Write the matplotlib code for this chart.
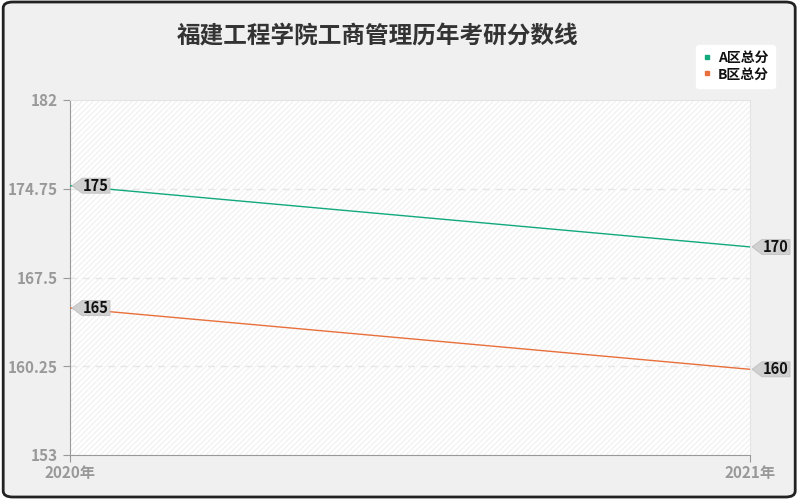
import matplotlib.pyplot as plt
import matplotlib.transforms as mtransforms
from matplotlib.patches import FancyBboxPatch, Polygon

plt.rcParams['font.family'] = ['Noto Sans CJK SC', 'DejaVu Sans']

years = ['2020年', '2021年']
a_scores = [175, 170]
b_scores = [165, 160]
y_ticks = [153, 160.25, 167.5, 174.75, 182]
y_labels = ['153', '160.25', '167.5', '174.75', '182']
title = '福建工程学院工商管理历年考研分数线'
green = '#12a97d'
orange = '#e8703c'

fig = plt.figure(figsize=(8, 5), dpi=100, facecolor='white')
fig.patches.append(FancyBboxPatch((0.004, 0.006), 0.99, 0.99, boxstyle='round,pad=0,rounding_size=0.012',
                                  transform=fig.transFigure, facecolor='#f0f0f0', edgecolor='#222222',
                                  linewidth=2.0, zorder=-10))

ax = fig.add_axes([70 / 800, 45 / 500, 680 / 800, 355 / 500])
ax.set_facecolor('white')
ax.add_patch(plt.Rectangle((0, 0), 1, 1, transform=ax.transAxes, facecolor='none',
                           edgecolor='#f2f2f2', hatch='//////', linewidth=0, zorder=0))
x = list(range(len(years)))
ax.plot(x, a_scores, color=green, lw=1, zorder=3)
ax.plot(x, b_scores, color=orange, lw=1, zorder=3)

# tag shaped value labels (pixel offsets from the point)
tag = [(2, 0), (12, 7.5), (40, 7.5), (40, -7.5), (12, -7.5)]
for series in (a_scores, b_scores):
    for xi, v in zip(x, series):
        tr = mtransforms.ScaledTranslation(xi, v, ax.transData)
        ax.add_patch(Polygon(tag, closed=True, transform=tr, facecolor='#d0d0d0',
                             edgecolor='#c0c0c0', lw=0.6, zorder=5, clip_on=False))
        ax.annotate(str(v), (xi, v), xytext=(26 * 0.72, 0), textcoords='offset points',
                    ha='center', va='center', fontsize=10.5, fontweight='bold', color='#111111',
                    zorder=6, annotation_clip=False)

ax.set_xlim(0, 1)
ax.set_ylim(153, 182)
ax.set_yticks(y_ticks)
ax.set_yticklabels(y_labels, fontweight='bold')
ax.set_xticks(x)
ax.set_xticklabels(years, fontweight='bold')
ax.tick_params(colors='#999999', labelsize=11, length=5)
ax.tick_params(axis='x', pad=2)
for y in y_ticks[1:-1]:
    ax.axhline(y, color='#e6e6e6', lw=1, ls=(0, (5, 4)), zorder=1)
ax.spines['left'].set_color('#999999')
ax.spines['bottom'].set_color('#999999')
ax.spines['top'].set_color('#e4e4e4')
ax.spines['right'].set_color('#e4e4e4')

fig.text(378 / 800, 1 - 37 / 500, title, ha='center', va='center', fontsize=17,
         fontweight='bold', color='#333333')

leg = ax.legend([plt.Line2D([], [], marker='s', ls='', color=green, markersize=3.5),
                 plt.Line2D([], [], marker='s', ls='', color=orange, markersize=3.5)],
                ['A区总分', 'B区总分'], loc='upper right', bbox_to_anchor=(775 / 800, 1 - 45 / 500),
                bbox_transform=fig.transFigure, borderaxespad=0, frameon=True, fontsize=10,
                handletextpad=0.5, borderpad=0.45, labelspacing=0.15, handlelength=0.6, fancybox=True)
leg.get_frame().set_edgecolor('white')
leg.get_frame().set_facecolor('white')
leg.get_frame().set_alpha(1)
for t in leg.get_texts():
    t.set_fontweight('bold')
    t.set_color('#111111')

fig.savefig('out.png', dpi=100)
